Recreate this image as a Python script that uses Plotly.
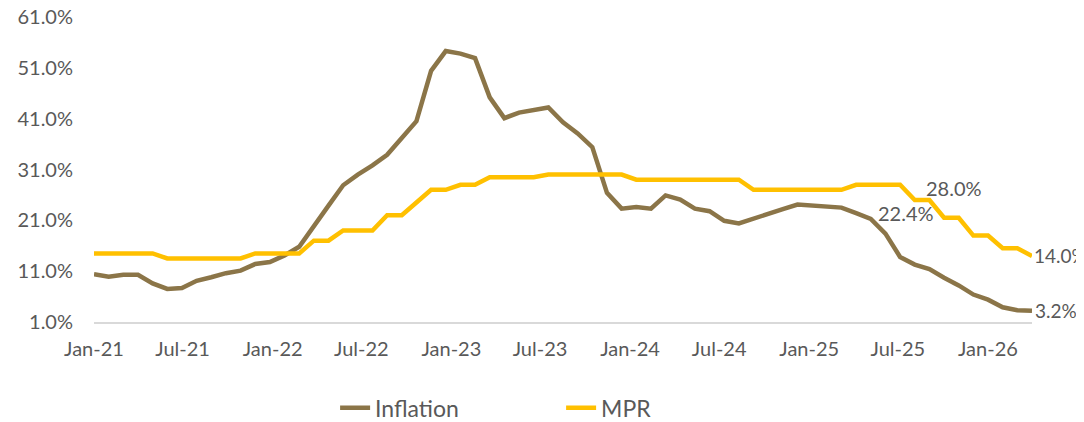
import pandas as pd
import plotly.graph_objects as go

inflation = [10.4, 9.9, 10.3, 10.3, 8.6, 7.5, 7.7, 9.1, 9.8, 10.6, 11.1, 12.4, 12.8, 14.1,
             15.8, 19.7, 23.9, 27.9, 30.0, 31.8, 33.9, 37.2, 40.5, 50.4, 54.3, 53.8, 52.9,
             45.2, 41.1, 42.2, 42.6, 43.2, 40.3, 38.1, 35.4, 26.4, 23.3, 23.6, 23.3, 25.9,
             25.1, 23.3, 22.8, 20.9, 20.4, 21.4, 22.2, 23.2, 24.1, 23.9, 23.7, 23.5, 22.4,
             21.3, 18.4, 13.8, 12.3, 11.4, 9.7, 8.2, 6.4, 5.4, 3.9, 3.3, 3.2]
mpr = [14.5, 14.5, 14.5, 14.5, 14.5, 13.5, 13.5, 13.5, 13.5, 13.5, 13.5, 14.5, 14.5, 14.5,
       14.5, 17.0, 17.0, 19.0, 19.0, 19.0, 22.0, 22.0, 24.5, 27.0, 27.0, 28.0, 28.0, 29.5,
       29.5, 29.5, 29.5, 30.0, 30.0, 30.0, 30.0, 30.0, 30.0, 29.0, 29.0, 29.0, 29.0, 29.0,
       29.0, 29.0, 29.0, 27.0, 27.0, 27.0, 27.0, 27.0, 27.0, 27.0, 28.0, 28.0, 28.0, 28.0,
       25.0, 25.0, 21.5, 21.5, 18.0, 18.0, 15.5, 15.5, 14.0]
start_date = "2021-01-01"
end_date = "2026-04-01"
y_ticks = [1, 11, 21, 31, 41, 51, 61]
# indices of points carrying a data label
infl_label_idx = [52, 64]
mpr_label_idx = [55, 64]

dates = pd.date_range(start_date, end_date, periods=len(inflation))

BROWN = "#8B7548"
GOLD = "#FFC000"
TXT = "#595959"
FONT = "Lato"
FS = 20

fig = go.Figure()
fig.add_trace(go.Scatter(x=dates, y=inflation, mode="lines", name="Inflation",
                         line=dict(color=BROWN, width=4.5)))
fig.add_trace(go.Scatter(x=dates, y=mpr, mode="lines", name="MPR",
                         line=dict(color=GOLD, width=4.5)))

last = len(inflation) - 1
for i in infl_label_idx:
    dx, dy, fs = (20, 0, FS) if i != last else (1, 0, 19)
    fig.add_annotation(x=dates[i], y=inflation[i], text=f"{inflation[i]:.1f}%",
                       xanchor="left", yanchor="middle", showarrow=False,
                       xshift=dx, yshift=dy, font=dict(family=FONT, size=fs, color=TXT))
for i in mpr_label_idx:
    dx, dy, fs = (24, -3, FS) if i != last else (0, 0, 19)
    fig.add_annotation(x=dates[i], y=mpr[i], text=f"{mpr[i]:.1f}%",
                       xanchor="left", yanchor="middle", showarrow=False,
                       xshift=dx, yshift=dy, font=dict(family=FONT, size=fs, color=TXT))

# page body has an 8px margin, so the figure is sized/placed to compensate
fig.update_layout(
    width=1076, height=414,
    margin=dict(l=86, r=52, t=9, b=100, autoexpand=False),
    paper_bgcolor="white", plot_bgcolor="white",
    font=dict(family=FONT, size=FS, color=TXT),
    showlegend=True,
    legend=dict(orientation="h", xref="container", yref="container",
                x=0.304, y=0.034, xanchor="left", yanchor="middle",
                font=dict(family=FONT, size=23, color=TXT), entrywidth=181,
                bgcolor="rgba(0,0,0,0)"),
)
fig.update_xaxes(type="date", range=[dates[0], dates[-1]], tick0=start_date, dtick="M6",
                 tickformat="%b-%y", showgrid=False, zeroline=False, automargin=False,
                 showline=True, linecolor="#D9D9D9", linewidth=2,
                 ticks="outside", ticklen=8, tickcolor="rgba(0,0,0,0)",
                 ticklabeloverflow="allow",
                 tickfont=dict(family=FONT, size=FS, color=TXT))
fig.update_yaxes(range=[1, 61], tickvals=y_ticks, ticktext=[f"{v:.1f}%" for v in y_ticks],
                 showgrid=False, zeroline=False, showline=False, automargin=False,
                 ticks="outside", ticklen=16, tickcolor="rgba(0,0,0,0)",
                 ticklabeloverflow="allow",
                 tickfont=dict(family=FONT, size=FS, color=TXT))

fig.write_html("out.html")
